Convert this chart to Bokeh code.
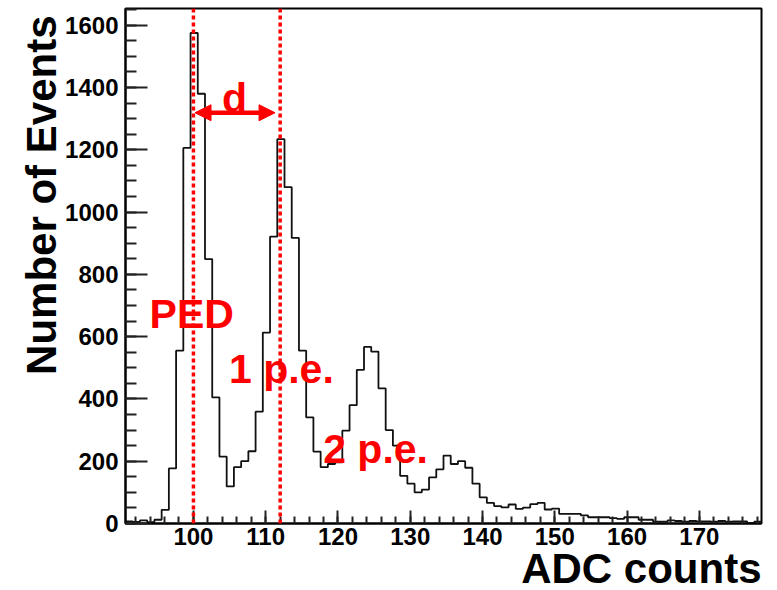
from bokeh.plotting import figure
from bokeh.models import (Range1d, FixedTicker, Span, Label, Arrow, NormalHead, Title)
from bokeh.embed import file_html
from bokeh.resources import INLINE

# ADC spectrum: 88 bins of width 1 starting at 90.6
bin_start = 90.6
bin_width = 1.0
counts = [
    7, 5, 10, 4, 12, 44, 177, 555, 1206, 1575,
    1380, 849, 405, 215, 119, 181, 200, 232, 359, 613,
    921, 1234, 1080, 917, 555, 341, 231, 181, 191, 196,
    298, 380, 493, 567, 552, 434, 300, 250, 153, 128,
    100, 109, 148, 174, 218, 191, 200, 179, 128, 84,
    66, 56, 52, 61, 47, 51, 62, 66, 45, 48,
    31, 31, 31, 26, 20, 20, 20, 17, 15, 20,
    20, 12, 12, 6, 6, 10, 8, 6, 8, 7,
    7, 6, 8, 6, 7, 7, 1, 6,
]

# peak positions (pedestal and single photo-electron)
ped_pos = 100
pe1_pos = 112

x_ticks = [100, 110, 120, 130, 140, 150, 160, 170]
y_ticks = [0, 200, 400, 600, 800, 1000, 1200, 1400, 1600]

peak_labels = ["PED", "1 p.e.", "2 p.e."]
peak_label_x = [99.77, 112.17, 125.2]
peak_label_y = [673, 497, 240]

edges = [bin_start + i * bin_width for i in range(len(counts) + 1)]
x_lo, x_hi = edges[0], edges[-1]
y_hi = max(counts) * 1.05

FONT = "Liberation Sans"

p = figure(width=777, height=590, output_backend="svg", toolbar_location=None,
           x_range=Range1d(x_lo, x_hi), y_range=Range1d(0, y_hi),
           min_border_left=125, min_border_right=16,
           min_border_top=8, min_border_bottom=67)
p.background_fill_color = "white"
p.border_fill_color = "white"
p.outline_line_color = "black"
p.outline_line_width = 2
p.xgrid.visible = False
p.ygrid.visible = False

# histogram outline
p.step(x=edges, y=counts + [counts[-1]], mode="after",
       line_color="#111111", line_width=1.8)

# axes with inward ticks
xa = p.xaxis[0]
xa.ticker = FixedTicker(ticks=x_ticks,
                        minor_ticks=[v for v in range(92, 179, 2)])
xa.major_tick_in = 13
xa.major_tick_out = 0
xa.minor_tick_in = 7
xa.minor_tick_out = 0
xa.major_label_standoff = 4

ya = p.yaxis[0]
ya.ticker = FixedTicker(ticks=y_ticks,
                        minor_ticks=[v for v in range(0, 1651, 50)])
ya.major_tick_in = 22
ya.major_tick_out = 0
ya.minor_tick_in = 11
ya.minor_tick_out = 0
ya.major_label_standoff = 7

for ax in (xa, ya):
    ax.axis_line_color = "black"
    ax.axis_line_width = 2
    ax.major_tick_line_color = "#222222"
    ax.major_tick_line_width = 2
    ax.minor_tick_line_color = "#222222"
    ax.minor_tick_line_width = 2
    ax.major_label_text_font = FONT
    ax.major_label_text_font_style = "bold"
    ax.major_label_text_font_size = "24px"
    ax.major_label_text_color = "black"

# axis titles, pushed to the far end of each axis
p.add_layout(Title(text="ADC counts", align="right", standoff=-10,
                   text_font=FONT, text_font_style="bold",
                   text_font_size="42px", text_color="black"), "below")
p.add_layout(Title(text="Number of Events", align="right", standoff=-4,
                   offset=7, text_font=FONT, text_font_style="bold",
                   text_font_size="42px", text_color="black"), "left")

# peak markers
for pos in (ped_pos, pe1_pos):
    p.add_layout(Span(location=pos, dimension="height", line_color="red",
                      line_width=3.5, line_dash="4 3"))

# distance between the peaks
arrow_y = 1319
p.add_layout(Arrow(x_start=100.22, y_start=arrow_y, x_end=111.29, y_end=arrow_y,
                   line_color="red", line_width=4.5,
                   start=NormalHead(size=16, fill_color="red", line_color="red"),
                   end=NormalHead(size=16, fill_color="red", line_color="red")))
p.add_layout(Label(x=(ped_pos + pe1_pos) / 2 - 0.3, y=1367, text="d",
                   text_align="center", text_baseline="alphabetic",
                   text_font=FONT, text_font_style="bold",
                   text_font_size="41px", text_color="red"))

for txt, lx, ly in zip(peak_labels, peak_label_x, peak_label_y):
    p.add_layout(Label(x=lx, y=ly, text=txt, text_align="center",
                       text_baseline="alphabetic", text_font=FONT,
                       text_font_style="bold", text_font_size="41px",
                       text_color="red"))

open("out.html", "w").write(file_html(p, INLINE))
